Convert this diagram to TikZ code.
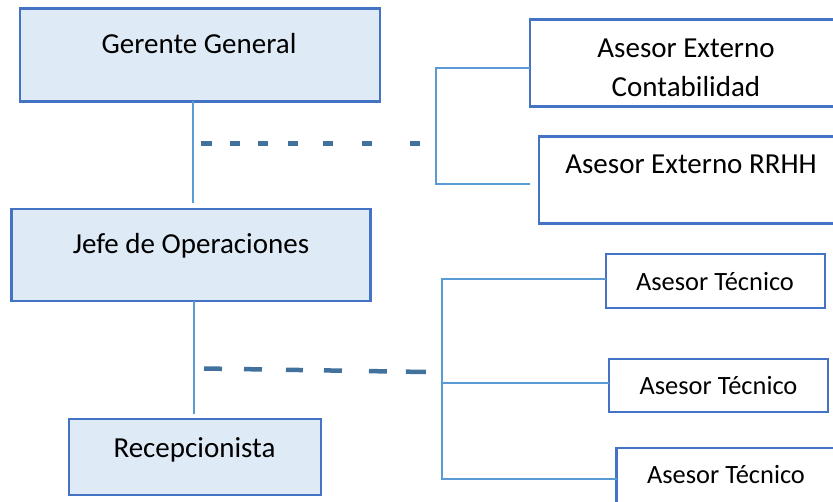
\documentclass[tikz,border=0pt]{standalone}
\usepackage{fontspec}
\setmainfont{Carlito}
\definecolor{bordblue}{HTML}{4472C4}
\definecolor{fillblue}{HTML}{DEEAF6}
\definecolor{linkblue}{HTML}{5B9BD5}
\definecolor{dashblue}{HTML}{41719C}
\begin{document}
\begin{tikzpicture}[x=1pt,y=-1pt,
  boxfill/.style={draw=bordblue,fill=fillblue,line width=2.6pt,inner sep=0pt,outer sep=0pt,rectangle},
  boxwhite/.style={draw=bordblue,fill=white,line width=2.6pt,inner sep=0pt,outer sep=0pt,rectangle},
  lbl/.style={anchor=base,inner sep=0pt,font=\fontsize{29}{38}\selectfont,align=center},
  lblsmall/.style={anchor=base,inner sep=0pt,font=\fontsize{26.4}{32}\selectfont},
  link/.style={draw=linkblue,line width=1.3pt},
  dashtop/.style={draw=dashblue,line width=5pt,dash pattern=on 11pt off 18pt on 10pt off 18pt on 10pt off 20pt on 10pt off 25pt on 10pt off 29pt on 10pt off 38pt on 10pt},
  dashbot/.style={draw=dashblue,line width=4.5pt,dash pattern=on 18pt off 22pt on 18pt off 24pt on 17pt off 21pt on 18pt off 27pt on 18pt off 19pt on 20pt}]
\useasboundingbox (0,0) rectangle (833,501);
\clip (0,0) rectangle (833,501);
% boxes
\node[boxfill, minimum width=360pt, minimum height=92.5pt] (gg) at (200,55) {};
\node[boxfill, minimum width=359pt, minimum height=92pt] (jefe) at (191,255) {};
\node[boxfill, minimum width=252pt, minimum height=76pt] (recep) at (195,457) {};
\node[boxwhite, minimum width=315pt, minimum height=87.5pt] (cont) at (687.5,63) {};
\node[boxwhite, minimum width=306pt, minimum height=86.5pt] (rrhh) at (692,180) {};
\node[boxwhite, minimum width=219pt, minimum height=54pt] (tec1) at (715.5,281) {};
\node[boxwhite, minimum width=219pt, minimum height=53pt] (tec2) at (718.5,385.5) {};
\node[boxwhite, minimum width=223pt, minimum height=72pt] (tec3) at (728,484) {};
% labels
\node[lbl] (tgg) at (199,53) {Gerente General};
\node[lbl] (tjefe) at (191,253) {Jefe de Operaciones};
\node[lbl] (trecep) at (194.5,457) {Recepcionista};
\node[lbl] (tcont1) at (686,57) {Asesor Externo};
\node[lbl] (tcont2) at (686,96) {Contabilidad};
\node[lbl] (trrhh) at (691,173) {Asesor Externo RRHH};
\node[lblsmall] (ttec1) at (715,290) {Asesor Técnico};
\node[lblsmall] (ttec2) at (718.5,394) {Asesor Técnico};
\node[lblsmall] (ttec3) at (726,483) {Asesor Técnico};
% vertical links
\coordinate (v1e) at (193,203);
\coordinate (v2e) at (194,414);
\draw[link] (gg.south -| v1e) -- (v1e);
\draw[link] (jefe.south -| v2e) -- (v2e);
% top bracket
\coordinate (bt) at (436,68);
\coordinate (bb) at (436,184);
\coordinate (bbe) at (530,184);
\draw[link] (cont.west |- bt) -- (bt) -- (bb) -- (bbe);
% bottom bracket
\coordinate (ct) at (442,279);
\coordinate (cm) at (442,383);
\coordinate (cb) at (442,479);
\draw[link] (tec1.west |- ct) -- (ct) -- (cb) -- (tec3.west |- cb);
\draw[link] (cm) -- (tec2.west |- cm);
% dashed lines
\coordinate (d1s) at (201,143);
\coordinate (d1e) at (420,143);
\draw[dashtop] (d1s) -- (d1e);
\coordinate (d2s) at (204,368.5);
\coordinate (d2e) at (426,372);
\draw[dashbot] (d2s) -- (d2e);
\end{tikzpicture}
\end{document}
